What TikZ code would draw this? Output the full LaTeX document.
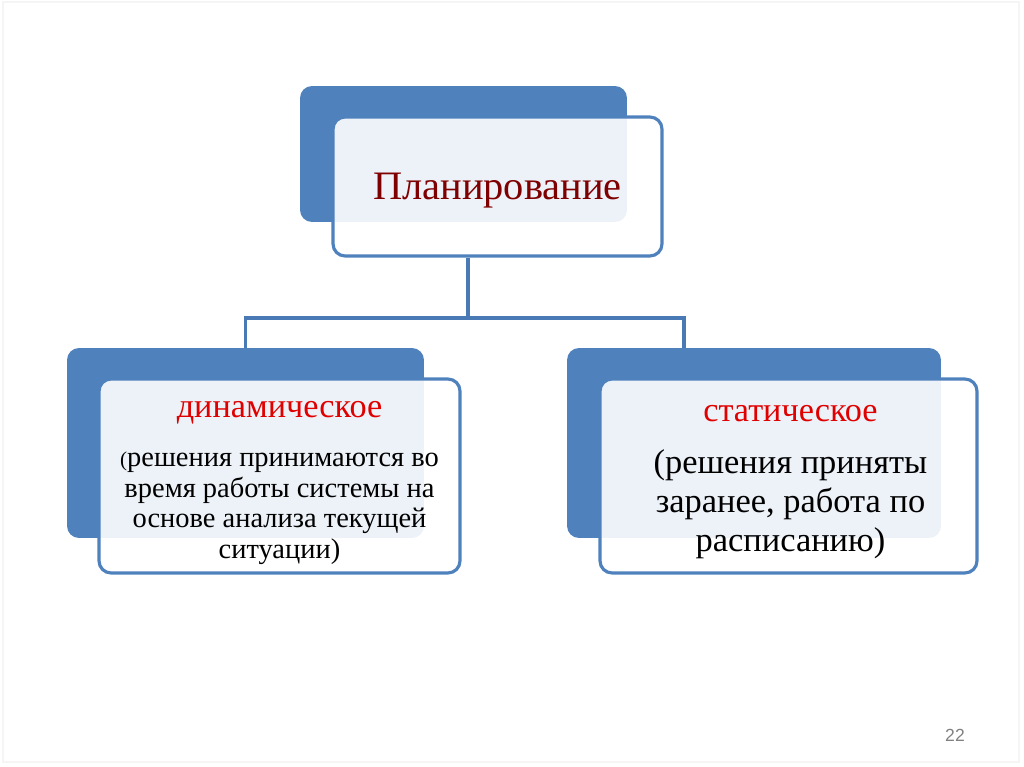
\documentclass[tikz,border=0pt]{standalone}
\usepackage{fontspec}
\setmainfont{Liberation Serif}
\newfontfamily\pagefont{Liberation Sans}
\definecolor{boxblue}{HTML}{4F81BD}
\definecolor{linkblue}{HTML}{4A7AB5}
\definecolor{headred}{HTML}{E00000}
\definecolor{topred}{HTML}{7F0000}
\tikzset{
	backbox/.style={fill=boxblue, rounded corners=0.24cm, inner sep=0pt},
	frontbox/.style={draw=boxblue, line width=1.8pt, fill=white, fill opacity=0.9, rounded corners=0.24cm, inner sep=0pt},
	textblock/.style={align=center, inner sep=0pt},
	link/.style={draw=linkblue, line width=2pt},
}
\begin{document}
\begin{tikzpicture}[x=0.02cm, y=-0.02cm]
	\useasboundingbox (0,0) rectangle (1024,767);
	\draw[gray!8, line width=0.6pt] (3,2) rectangle (1019,762);
	% top block
	\node[backbox, minimum width=6.54cm, minimum height=2.72cm] (planback) at (463.5,154) {};
	\node[frontbox, minimum width=6.58cm, minimum height=2.78cm] (plan) at (497.5,186.5) {};
	\node[textblock, font=\fontsize{23}{27}\selectfont, text=topred] (plantext) at ([yshift=-0.08cm]plan.center) {Планирование};
	% left block
	\node[backbox, minimum width=7.14cm, minimum height=3.8cm] (dynback) at (245.5,443) {};
	\node[frontbox, minimum width=7.22cm, minimum height=3.88cm] (dyn) at (279.5,476) {};
	\node[textblock, font=\fontsize{16.2}{17.6}\selectfont] (dyntext) at ([yshift=-0.14cm]dyn.center)
		{{\fontsize{19.5}{22}\selectfont\color{headred}динамическое}\\[0.36cm]{\fontsize{12}{12}\selectfont(}решения принимаются во\\время работы системы на\\основе анализа текущей\\ситуации)};
	% right block
	\node[backbox, minimum width=7.48cm, minimum height=3.8cm] (statback) at (754,443) {};
	\node[frontbox, minimum width=7.54cm, minimum height=3.88cm] (stat) at (788.5,476) {};
	\node[textblock, font=\fontsize{19.6}{22.2}\selectfont] (stattext) at ([xshift=0.04cm, yshift=-0.12cm]stat.center)
		{{\fontsize{19.5}{22}\selectfont\color{headred}статическое}\\[0.27cm](решения приняты\\заранее, работа по\\расписанию)};
	% connectors
	\coordinate (hub) at (468,318);
	\coordinate (statin) at (684,348);
	\draw[link] (plan.south -| hub) -- (hub);
	\draw[link] (dynback.north) |- (hub) -| (statin);
	\node[font=\pagefont\fontsize{10}{12}\selectfont, text=gray] (pagenum) at (955,735) {22};
\end{tikzpicture}
\end{document}
